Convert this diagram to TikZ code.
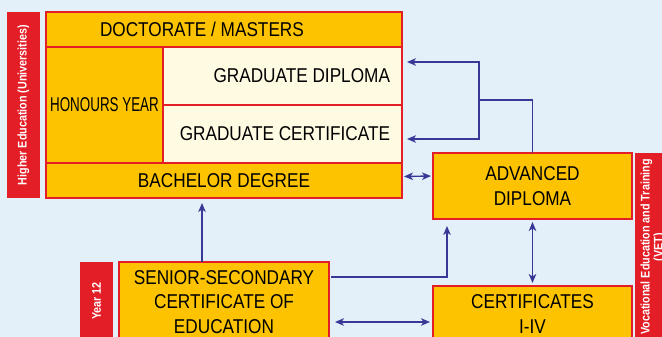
\documentclass[tikz,border=0pt]{standalone}
\usepackage{fontspec}
\setmainfont{Liberation Sans}[FakeStretch=0.86]
\newfontfamily\narrowfont{Liberation Sans}[FakeStretch=0.67]
\usepackage{xcolor}
\usetikzlibrary{positioning, arrows.meta}
\definecolor{boxorange}{HTML}{FDC300}
\definecolor{edured}{HTML}{E41E26}
\definecolor{gradcream}{HTML}{FFFBE2}
\definecolor{linkblue}{HTML}{3A3896}
\definecolor{paper}{HTML}{E3F0FA}

\begin{document}
\begin{tikzpicture}[x=1pt,y=-1pt,
    box/.style={draw=edured, line width=1.8pt, fill=boxorange, inner sep=0pt,
        outer sep=0pt, font=\fontsize{20}{24.5}\selectfont, align=center},
    sidebar/.style={fill=edured, text=white, rotate=90, inner sep=0pt,
        outer sep=0pt, font=\bfseries\fontsize{12.5}{13}\selectfont, align=center},
    link/.style={draw=linkblue, line width=1.4pt,
        >={Stealth[length=9pt,width=7.5pt,inset=2.5pt]}}]
    % page and background
    \useasboundingbox (0,0) rectangle (662,337);
    \clip (0,0) rectangle (662,337);
    \fill[paper] (0,0) rectangle (662,337);
    % Add the university block
		\node[box,
			anchor=north west,
			minimum width=356pt, minimum height=35pt,
			text width=248pt, inner xsep=54pt, align=flush left
			] (doct) at (46,12) {DOCTORATE / MASTERS};
		\node[box,
			below right=0pt of doct.south west,
			minimum width=117pt, minimum height=116pt,
			font=\narrowfont\fontsize{20}{24.5}\selectfont
			] (hons) {HONOURS YEAR};
		\node[box, fill=gradcream,
			below right=0pt of hons.north east,
			minimum width=239pt, minimum height=58pt,
			text width=215pt, inner xsep=12pt, align=flush right
			] (gdip) {GRADUATE DIPLOMA};
		\node[box, fill=gradcream,
			below=0pt of gdip,
			minimum width=239pt, minimum height=58pt,
			text width=215pt, inner xsep=12pt, align=flush right
			] (gcert) {GRADUATE CERTIFICATE};
		\node[box,
			below right=0pt of hons.south west,
			minimum width=356pt, minimum height=35pt
			] (bach) {BACHELOR DEGREE};
		\node[sidebar,
			anchor=south,
			minimum width=186pt, minimum height=33pt
			] (hes) at ([xshift=-6pt]hons.west) {Higher Education (Universities)};
    % Add the VET block
		\node[box,
			anchor=north west,
			minimum width=199pt, minimum height=66pt
			] (adv) at (433,153) {ADVANCED\\DIPLOMA};
		\node[box,
			below=67pt of adv,
			minimum width=199pt, minimum height=56pt
			] (cert) {CERTIFICATES\\I-IV};
		\node[sidebar,
			anchor=north east,
			minimum width=188pt, minimum height=36pt
			] (vet) at ([xshift=3pt]adv.north east) {Vocational Education and Training\\(VET)};
    % Add the school block
		\node[box,
			anchor=north west,
			minimum width=210pt, minimum height=80pt
			] (ssce) at (119,262) {SENIOR-SECONDARY\\CERTIFICATE OF\\EDUCATION};
		\node[sidebar,
			anchor=south east,
			minimum width=78pt, minimum height=33pt
			] (year) at ([xshift=-6pt]ssce.north west) {Year 12};
    % pathways
		\coordinate (fork) at (479,100);
		\draw[link,->,shorten >=5pt] ([xshift=-22pt]ssce.north) -- ([xshift=-22pt]bach.south);
		\draw[link,->,shorten <=2pt,shorten >=7pt] ([yshift=-15pt]ssce.north east) -| ([xshift=14pt]adv.south west);
		\draw[link,<->,shorten <=6pt,shorten >=3pt] ([yshift=-60pt]ssce.north east) -- ([yshift=-36pt]cert.north west);
		\draw[link,<->,shorten <=3pt,shorten >=3pt] (adv.south) -- (cert.north);
		\draw[link,<->,shorten <=2pt,shorten >=2pt] ([yshift=4pt]bach.east) -- ([yshift=10pt]adv.west);
		\draw[link] (adv.north) |- (fork);
		\draw[link,->,shorten >=5pt] (fork) |- ([yshift=14pt]gdip.east);
		\draw[link,->,shorten >=5pt] (fork) |- ([yshift=-5pt]gcert.east);
\end{tikzpicture}
\end{document}
